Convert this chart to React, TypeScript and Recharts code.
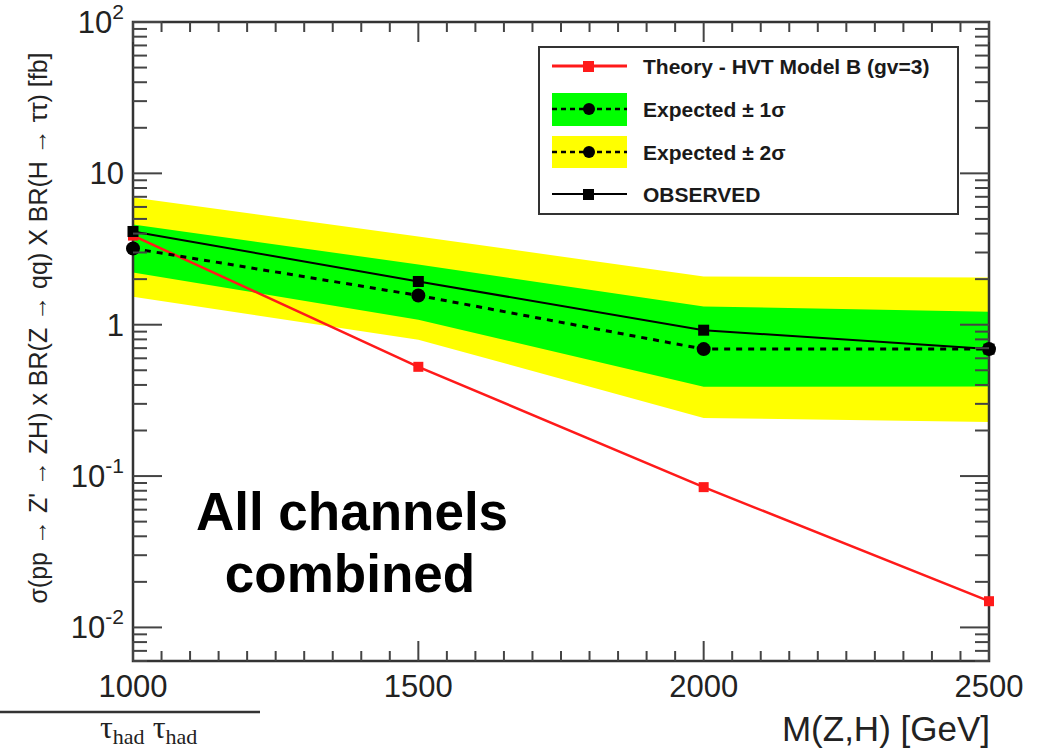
import React from "react";
import {
    ComposedChart,
    Area,
    Line,
    XAxis,
    YAxis,
    Legend,
    ReferenceArea,
} from "recharts";

// Z' -> ZH limits, all channels combined (in fb)
const masses = [1000, 1500, 2000, 2500];
const theoryHvtB = [3.88, 0.527, 0.0845, 0.0149];
const observed = [4.13, 1.93, 0.92, 0.69];
const expected = [3.19, 1.56, 0.69, 0.69];
const oneSigmaLow = [2.21, 1.08, 0.389, 0.39];
const oneSigmaHigh = [4.59, 2.5, 1.32, 1.22];
const twoSigmaLow = [1.53, 0.796, 0.242, 0.228];
const twoSigmaHigh = [6.93, 3.83, 2.08, 2.05];

const xMajorTicks = [1000, 1500, 2000, 2500];
const yDecades = [0.01, 0.1, 1, 10, 100];
const yDecadeLabels = [
    ["10", "-2"],
    ["10", "-1"],
    ["1", ""],
    ["10", ""],
    ["10", "2"],
];

const legendLabels = [
    "Theory - HVT Model B (gv=3)",
    "Expected \u00b1 1\u03c3",
    "Expected \u00b1 2\u03c3",
    "OBSERVED",
];

const Y_MIN = 0.006;
const Y_MAX = 100;

const W = 1048;
const H = 749;
const PLOT_LEFT = 133;
const PLOT_RIGHT = 989;
const PLOT_TOP = 22;
const PLOT_BOTTOM = 661;

const FONT = '"Liberation Sans", Arial, Helvetica, sans-serif';
const AXIS = "#333";
const TICK = "#444";

// minor ticks every 50 GeV
const xTicks: number[] = [];
for (let m = 1000; m <= 2500; m += 50) xTicks.push(m);

// 2..9 x each decade inside the y range
const yTicks: number[] = [];
[0.001, 0.01, 0.1, 1, 10].forEach((d) => {
    for (let k = 1; k <= 9; k++) {
        const v = Number((k * d).toPrecision(3));
        if (v >= Y_MIN && v <= Y_MAX) yTicks.push(v);
    }
});
yTicks.push(100);

const data = masses.map((m, i) => ({
    mass: m,
    theory: theoryHvtB[i],
    observed: observed[i],
    expected: expected[i],
    oneSigma: [oneSigmaLow[i], oneSigmaHigh[i]],
    twoSigma: [twoSigmaLow[i], twoSigmaHigh[i]],
}));

function YTick(props: any) {
    const { y, payload } = props;
    const v = payload.value;
    const idx = yDecades.indexOf(v);
    const major = idx >= 0;
    const len = major ? 29 : 14;
    return (
        <g>
            <line x1={PLOT_LEFT} x2={PLOT_LEFT + len} y1={y} y2={y} stroke={TICK} strokeWidth={2} />
            <line x1={PLOT_RIGHT} x2={PLOT_RIGHT - len} y1={y} y2={y} stroke={TICK} strokeWidth={2} />
            {major && (
                <text
                    x={PLOT_LEFT - 9}
                    y={y + 11}
                    textAnchor="end"
                    fontSize={31}
                    fontFamily={FONT}
                    fill="#222"
                >
                    <tspan>{yDecadeLabels[idx][0]}</tspan>
                    {yDecadeLabels[idx][1] && (
                        <tspan dy={-14} fontSize={21}>
                            {yDecadeLabels[idx][1]}
                        </tspan>
                    )}
                </text>
            )}
        </g>
    );
}

function XTick(props: any) {
    const { x, payload } = props;
    const v = payload.value;
    const major = xMajorTicks.includes(v);
    const len = major ? 20 : 10;
    return (
        <g>
            <line x1={x} x2={x} y1={PLOT_BOTTOM} y2={PLOT_BOTTOM - len} stroke={TICK} strokeWidth={2} />
            <line x1={x} x2={x} y1={PLOT_TOP} y2={PLOT_TOP + len} stroke={TICK} strokeWidth={2} />
            {major && (
                <text
                    x={x}
                    y={PLOT_BOTTOM + 36}
                    textAnchor="middle"
                    fontSize={31}
                    fontFamily={FONT}
                    fill="#222"
                >
                    {v}
                </text>
            )}
        </g>
    );
}

function squareDot(size: number, color: string) {
    return (props: any) => {
        const { cx, cy, index } = props;
        if (cx == null || cy == null) return <g key={`e-${index}`} />;
        return (
            <rect
                key={`sq-${color}-${index}`}
                x={cx - size / 2}
                y={cy - size / 2}
                width={size}
                height={size}
                fill={color}
            />
        );
    };
}

function LegendBox() {
    const rows = [20, 63, 106, 148];
    return (
        <svg width={421} height={170} style={{ display: "block" }}>
            <rect x={1} y={1} width={419} height={167} fill="#fff" stroke={AXIS} strokeWidth={2} />
            {/* theory */}
            <line x1={14} x2={89} y1={rows[0]} y2={rows[0]} stroke="#ff1a1a" strokeWidth={3} />
            <rect x={45} y={rows[0] - 5} width={11} height={11} fill="#ff1a1a" />
            {/* +-1 sigma */}
            <rect x={14} y={47} width={75} height={33} fill="#00ff00" />
            <line x1={14} x2={89} y1={rows[1]} y2={rows[1]} stroke="#000" strokeWidth={2.5} strokeDasharray="5 4" />
            <circle cx={51} cy={rows[1]} r={6} fill="#000" />
            {/* +-2 sigma */}
            <rect x={14} y={90} width={75} height={32} fill="#ffff00" />
            <line x1={14} x2={89} y1={rows[2]} y2={rows[2]} stroke="#000" strokeWidth={2.5} strokeDasharray="5 4" />
            <circle cx={51} cy={rows[2]} r={6} fill="#000" />
            {/* observed */}
            <line x1={14} x2={89} y1={rows[3]} y2={rows[3]} stroke="#000" strokeWidth={2} />
            <rect x={45} y={rows[3] - 5} width={11} height={11} fill="#000" />
            {legendLabels.map((t, i) => (
                <text
                    key={t}
                    x={105}
                    y={rows[i] + 7.5}
                    fontSize={21}
                    fontWeight="bold"
                    fontFamily={FONT}
                    fill="#1a1a1a"
                >
                    {t}
                </text>
            ))}
        </svg>
    );
}

export default function App() {
    return (
        <div
            style={{
                position: "absolute",
                left: 0,
                top: 0,
                width: W,
                height: H,
                background: "#fff",
                overflow: "hidden",
            }}
        >
            <ComposedChart
                width={W}
                height={H}
                data={data}
                margin={{ top: PLOT_TOP, right: W - PLOT_RIGHT, bottom: 0, left: 0 }}
            >
                <XAxis
                    dataKey="mass"
                    type="number"
                    domain={[1000, 2500]}
                    ticks={xTicks}
                    interval={0}
                    tick={XTick}
                    tickLine={false}
                    axisLine={false}
                    height={H - PLOT_BOTTOM}
                />
                <YAxis
                    type="number"
                    scale="log"
                    domain={[Y_MIN, Y_MAX]}
                    ticks={yTicks}
                    interval={0}
                    tick={YTick}
                    tickLine={false}
                    axisLine={false}
                    width={PLOT_LEFT}
                />
                <Area
                    type="linear"
                    dataKey="twoSigma"
                    stroke="none"
                    fill="#ffff00"
                    fillOpacity={1}
                    dot={false}
                    activeDot={false}
                    isAnimationActive={false}
                />
                <Area
                    type="linear"
                    dataKey="oneSigma"
                    stroke="none"
                    fill="#00ff00"
                    fillOpacity={1}
                    dot={false}
                    activeDot={false}
                    isAnimationActive={false}
                />
                <ReferenceArea
                    x1={1000}
                    x2={2500}
                    y1={Y_MIN}
                    y2={Y_MAX}
                    fill="none"
                    fillOpacity={0}
                    stroke={AXIS}
                    strokeWidth={2.5}
                />
                <Line
                    type="linear"
                    dataKey="theory"
                    stroke="#ff1a1a"
                    strokeWidth={2.5}
                    dot={squareDot(10, "#ff1a1a")}
                    activeDot={false}
                    isAnimationActive={false}
                />
                <Line
                    type="linear"
                    dataKey="expected"
                    stroke="#000"
                    strokeWidth={3}
                    strokeDasharray="6 6"
                    dot={{ r: 7, fill: "#000", stroke: "none" }}
                    activeDot={false}
                    isAnimationActive={false}
                />
                <Line
                    type="linear"
                    dataKey="observed"
                    stroke="#000"
                    strokeWidth={2}
                    dot={squareDot(11, "#000")}
                    activeDot={false}
                    isAnimationActive={false}
                />
                <Legend
                    layout="vertical"
                    align="center"
                    verticalAlign="middle"
                    wrapperStyle={{ left: 538, top: 46, width: 421, height: 170 }}
                    content={() => <LegendBox />}
                />
            </ComposedChart>

            <svg
                width={W}
                height={H}
                style={{ position: "absolute", left: 0, top: 0, pointerEvents: "none" }}
            >
                <text
                    transform="translate(47,328) rotate(-90)"
                    textAnchor="middle"
                    fontSize={25}
                    fontFamily={FONT}
                    fill="#222"
                >
                    σ(pp → Z' → ZH) x BR(Z → qq) X BR(H → ττ) [fb]
                </text>
                <text
                    x={990}
                    y={741}
                    textAnchor="end"
                    fontSize={35}
                    fontFamily={FONT}
                    fill="#222"
                >
                    M(Z,H) [GeV]
                </text>
                <text
                    x={352}
                    y={530}
                    textAnchor="middle"
                    fontSize={53}
                    fontWeight="bold"
                    fontFamily={FONT}
                    fill="#000"
                >
                    All channels
                </text>
                <text
                    x={350}
                    y={592}
                    textAnchor="middle"
                    fontSize={53}
                    fontWeight="bold"
                    fontFamily={FONT}
                    fill="#000"
                >
                    combined
                </text>
                <line x1={0} x2={260} y1={712} y2={712} stroke="#333" strokeWidth={2.5} />
                <text x={100} y={738} fontFamily='"Liberation Serif", "DejaVu Serif", serif' fill="#222">
                    <tspan fontSize={32}>τ</tspan>
                    <tspan fontSize={22} dy={6}>had</tspan>
                    <tspan fontSize={32} dy={-6}> τ</tspan>
                    <tspan fontSize={22} dy={6}>had</tspan>
                </text>
            </svg>
        </div>
    );
}
